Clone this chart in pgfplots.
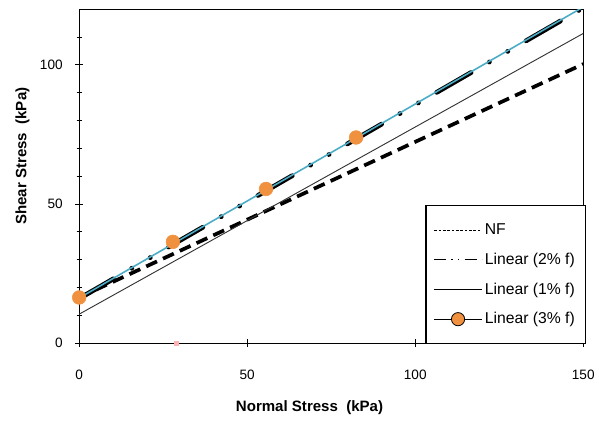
\documentclass[border=0pt]{standalone}
\usepackage{pgfplots}
\pgfplotsset{compat=1.18}
\usepackage{fontspec}
\setmainfont{Liberation Sans}
\definecolor{xlorange}{HTML}{F0913F}
\definecolor{xlteal}{HTML}{4BACC6}
\begin{document}
\begin{tikzpicture}
\begin{axis}[
    scale only axis,
    width=382pt, height=253pt,
    xmin=0, xmax=150, ymin=0, ymax=120,
    xtick={0,50,100,150},
    ytick={0,50,100},
    minor ytick={10,20,30,40,60,70,80,90,110},
    xtick pos=bottom, ytick pos=left,
    tick align=center,
    major tick length=6pt,
    minor tick length=4pt,
    tick style={black, line width=0.6pt},
    axis line style={black, line width=0.9pt},
    clip=true,
    tick label style={font=\fontsize{10.3}{12}\selectfont},
    label style={font=\fontsize{11.4}{13}\selectfont},
    /pgf/number format/assume math mode=true,
    yticklabel style={xshift=-6pt},
    xticklabel style={yshift=-14pt},
    xlabel={\textbf{Normal Stress\ \ (kPa)}},
    ylabel={\textbf{Shear Stress\ \ (kPa)}},
    xlabel style={at={(axis description cs:0.457,0)}, anchor=center, yshift=-49pt},
    ylabel style={at={(axis description cs:0,0.56)}, anchor=center, yshift=43pt},
    legend style={at={(axis cs:103,49.6)}, anchor=north west, draw=black,
        line width=0.9pt, font=\fontsize{11.9}{13}\selectfont,
        row sep=8.5pt, inner xsep=6pt, inner ysep=11.5pt},
    legend cell align=left,
]
% 3% f measured points (under the lines)
\addplot[only marks, mark=*, mark size=5.2pt, color=xlorange, fill=xlorange, forget plot]
    coordinates {(0,16.4) (27.9,36.4) (55.6,55.4) (82.4,73.9)};
% small marker on the x axis
\addplot[only marks, mark=square*, mark size=1.6pt, color=red!30, forget plot]
    coordinates {(29,0)};
% NF
\addplot[black, line width=2.8pt, dash pattern=on 9pt off 5pt,
    legend image code/.code={\draw[black, line width=0.5pt, dash pattern=on 2pt off 1.3pt] (0pt,0pt) -- (36pt,0pt);}]
    coordinates {(0,16.4) (150,100.3)};
\addlegendentry{NF}
% Linear (2% f)
\addplot[black, line width=3.6pt, line cap=round,
    dash pattern=on 30pt off 16pt on 0.1pt off 16pt on 0.1pt off 16pt,
    legend image code/.code={\draw[black, line width=0.5pt, line cap=butt, dash pattern=on 9pt off 4pt on 1pt off 4pt on 1pt off 4pt] (0pt,0pt) -- (36pt,0pt);}]
    coordinates {(0,16.0) (150,120.5)};
\addlegendentry{Linear (2\% f)}
% Linear (1% f)
\addplot[black!80, line width=0.7pt,
    legend image code/.code={\draw[black, line width=0.7pt] (0pt,0pt) -- (36pt,0pt);}]
    coordinates {(0,10.4) (150,111.3)};
\addlegendentry{Linear (1\% f)}
% Linear (3% f)
\addplot[xlteal, line width=1.2pt,
    legend image code/.code={\draw[black, line width=0.7pt] (0pt,0pt) -- (36pt,0pt);
        \filldraw[fill=xlorange, draw=black, line width=0.6pt] (18pt,0pt) circle (5pt);}]
    coordinates {(0,16.2) (150,120.8)};
\addlegendentry{Linear (3\% f)}
\end{axis}
\path[use as bounding box] ([xshift=-60pt, yshift=-64pt]current axis.south west) rectangle ([xshift=7pt, yshift=7pt]current axis.north east);
\end{tikzpicture}
\end{document}
